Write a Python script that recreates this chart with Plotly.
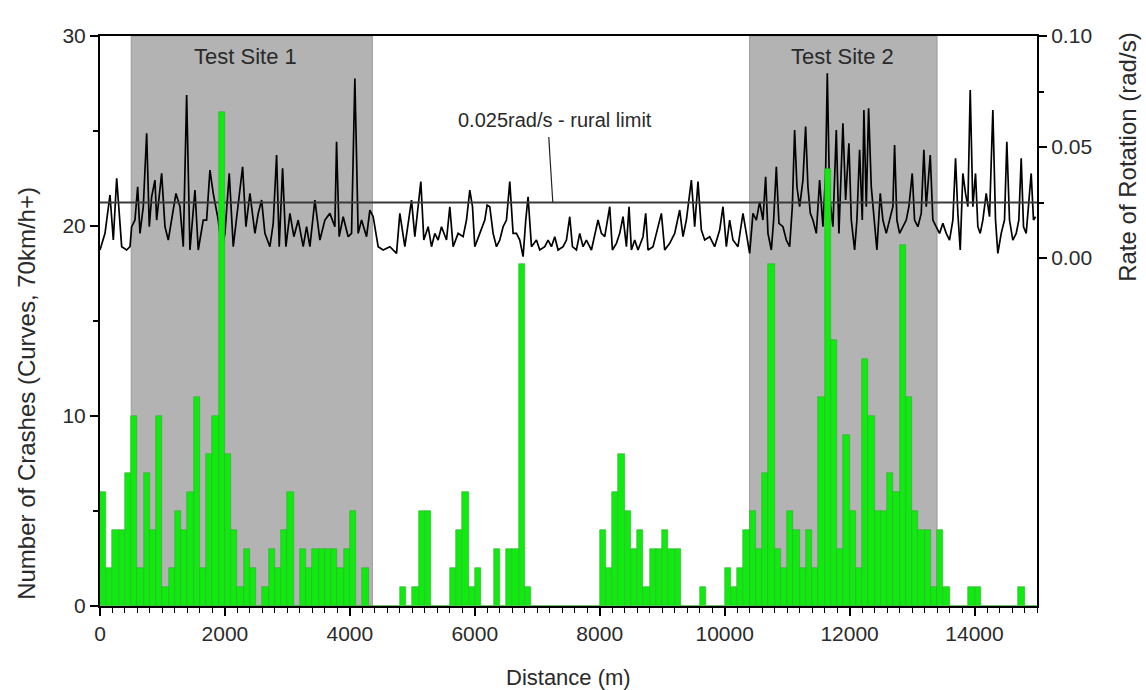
import plotly.graph_objects as go

# ---------------- data ----------------
bin_width = 100
crashes = [
    6, 2, 4, 4, 7, 10, 2, 7, 4, 10,      # 0-1000
    1, 2, 5, 4, 6, 11, 2, 8, 10, 26,     # 1000-2000
    8, 4, 1, 3, 2, 0, 1, 3, 2, 4,        # 2000-3000
    6, 0, 3, 2, 3, 3, 3, 3, 2, 3,        # 3000-4000
    5, 0, 2, 0, 0, 0, 0, 0, 1, 0,        # 4000-5000
    1, 5, 5, 0, 0, 0, 2, 4, 6, 1,        # 5000-6000
    2, 0, 0, 3, 0, 3, 3, 18, 1, 0,       # 6000-7000
    0, 0, 0, 0, 0, 0, 0, 0, 0, 0,        # 7000-8000
    4, 2, 6, 8, 5, 3, 4, 1, 3, 3,        # 8000-9000
    4, 3, 3, 0, 0, 0, 1, 0, 0, 0,        # 9000-10000
    2, 1, 2, 4, 5, 3, 7, 18, 3, 2,       # 10000-11000
    5, 4, 2, 4, 2, 11, 23, 14, 3, 9,     # 11000-12000
    5, 2, 13, 10, 5, 5, 7, 6, 19, 11,    # 12000-13000
    5, 4, 4, 1, 4, 1, 0, 0, 0, 1,        # 13000-14000
    1, 0, 0, 0, 0, 0, 0, 1, 0, 0,        # 14000-15000
]
bin_centers = [bin_width * i + bin_width / 2 for i in range(len(crashes))]

rot_distance = [
    0, 80, 160, 213, 267, 347, 427, 480, 507, 560, 603, 640, 693, 747, 789, 827, 880, 907, 987,
    1040, 1093, 1147, 1216, 1280, 1333, 1387, 1440, 1520, 1573, 1653, 1707, 1760, 1813, 1893,
    1947, 2000, 2069, 2133, 2213, 2283, 2336, 2400, 2480, 2533, 2587, 2640, 2720, 2773, 2827,
    2869, 2923, 2976, 3040, 3104, 3173, 3253, 3307, 3360, 3440, 3520, 3600, 3680, 3760, 3787,
    3829, 3893, 3973, 4027, 4080, 4133, 4187, 4267, 4320, 4373, 4453, 4533, 4640, 4747, 4800,
    4880, 4987, 5040, 5136, 5184, 5253, 5307, 5360, 5413, 5467, 5547, 5600, 5653, 5733, 5813,
    5867, 5920, 5963, 6000, 6080, 6160, 6197, 6240, 6293, 6347, 6400, 6453, 6507, 6560, 6613,
    6667, 6720, 6773, 6816, 6853, 6907, 6987, 7040, 7120, 7173, 7227, 7280, 7333, 7413, 7467,
    7520, 7563, 7627, 7680, 7733, 7787, 7867, 7920, 7973, 8027, 8080, 8160, 8203, 8267, 8320,
    8373, 8427, 8469, 8507, 8560, 8613, 8693, 8736, 8773, 8853, 8907, 8987, 9040, 9120, 9200,
    9280, 9333, 9387, 9467, 9520, 9573, 9627, 9680, 9760, 9840, 9920, 9973, 10027, 10080,
    10133, 10213, 10293, 10347, 10400, 10453, 10507, 10560, 10613, 10656, 10693, 10747, 10784,
    10827, 10869, 10933, 10987, 11040, 11083, 11120, 11157, 11200, 11253, 11296, 11333, 11371,
    11413, 11467, 11520, 11573, 11616, 11643, 11680, 11733, 11787, 11829, 11867, 11893, 11936,
    11989, 12027, 12080, 12117, 12160, 12203, 12229, 12267, 12304, 12347, 12400, 12437, 12491,
    12533, 12587, 12640, 12693, 12720, 12757, 12800, 12853, 12907, 12949, 13003, 13040, 13093,
    13147, 13189, 13227, 13291, 13333, 13387, 13440, 13493, 13547, 13600, 13653, 13696, 13733,
    13771, 13813, 13856, 13893, 13931, 13973, 14016, 14053, 14091, 14133, 14187, 14240, 14293,
    14336, 14373, 14427, 14480, 14517, 14560, 14613, 14667, 14709, 14747, 14784, 14827, 14880,
    14907, 14944, 14976,
]
rot_rate = [
    0.0036, 0.0111, 0.0284, 0.0081, 0.0359, 0.0051, 0.0036, 0.0051, 0.0141, 0.0171, 0.0321,
    0.0111, 0.0231, 0.0562, 0.0141, 0.0276, 0.0351, 0.0171, 0.0381,
    0.0141, 0.0081, 0.0171, 0.0291, 0.0231, 0.0051, 0.0734, 0.0036, 0.0306, 0.0036, 0.0171,
    0.0171, 0.0396, 0.0291, 0.0171,
    0.0036, 0.0111, 0.0381, 0.0051, 0.0231, 0.0411, 0.0141, 0.0291, 0.0111, 0.0201, 0.0261,
    0.0111, 0.0051, 0.0156, 0.0464,
    0.0051, 0.0404, 0.0051, 0.0201, 0.0096, 0.0171, 0.0051, 0.0141, 0.0051, 0.0261, 0.0081,
    0.0171, 0.0201, 0.0141, 0.0524,
    0.0096, 0.0186, 0.0096, 0.0111, 0.0809, 0.0111, 0.0171, 0.0096, 0.0216, 0.0186, 0.0051,
    0.0036, 0.0051, 0.0021, 0.0201,
    0.0051, 0.0261, 0.0096, 0.0344, 0.0081, 0.0141, 0.0051, 0.0111, 0.0081, 0.0141, 0.0081,
    0.0231, 0.0051, 0.0111, 0.0096,
    0.0171, 0.0306, 0.0231, 0.0051, 0.0111, 0.0171, 0.0238, 0.0231, 0.0111, 0.0051, 0.0081,
    0.0141, 0.0171, 0.0344, 0.0111,
    0.0111, 0.0081, 0.0006, 0.0171, 0.0276, 0.0051, 0.0081, 0.0036, 0.0051, 0.0081, 0.0051,
    0.0096, 0.0036, 0.0051, 0.0081,
    0.0186, 0.0051, 0.0036, 0.0111, 0.0051, 0.0081, 0.0036, 0.0111, 0.0171, 0.0111, 0.0096,
    0.0231, 0.0036, 0.0066, 0.0111,
    0.0186, 0.0051, 0.0231, 0.0036, 0.0081, 0.0036, 0.0096, 0.0201, 0.0036, 0.0051, 0.0111,
    0.0201, 0.0036, 0.0066, 0.0111,
    0.0216, 0.0096, 0.0171, 0.0351, 0.0141, 0.0344, 0.0126, 0.0081, 0.0096, 0.0051, 0.0126,
    0.0231, 0.0051, 0.0171,
    0.0081, 0.0051, 0.0201, 0.0111, 0.0021, 0.0201, 0.0171, 0.0253, 0.0171, 0.0366, 0.0111,
    0.0036, 0.0171,
    0.0411, 0.0156, 0.0141, 0.0081, 0.0051, 0.0231, 0.0577, 0.0321, 0.0231, 0.0351, 0.0592,
    0.0321, 0.0201,
    0.0171, 0.0111, 0.0351, 0.0141, 0.0381, 0.0832, 0.0276, 0.0141, 0.0577, 0.0111, 0.0381,
    0.0607, 0.0261,
    0.0517, 0.0171, 0.0036, 0.0171, 0.0487, 0.0171, 0.0667, 0.0231, 0.0674, 0.0321, 0.0141,
    0.0036, 0.0291,
    0.0171, 0.0111, 0.0171, 0.0231, 0.0509, 0.0171, 0.0111, 0.0141, 0.0171, 0.0231, 0.0381,
    0.0171, 0.0141,
    0.0201, 0.0487, 0.0231, 0.0464, 0.0171, 0.0141, 0.0111, 0.0156, 0.0111, 0.0081, 0.0171,
    0.0449, 0.0201,
    0.0036, 0.0381, 0.0291, 0.0231, 0.0757, 0.0231, 0.0381, 0.0141, 0.0111, 0.0171, 0.0291,
    0.0186, 0.0667,
    0.0171, 0.0021, 0.0111, 0.0171, 0.0524, 0.0171, 0.0081, 0.0111, 0.0171, 0.0449, 0.0141,
    0.0111, 0.0321,
    0.0381, 0.0171, 0.0186,
]

rural_limit = 0.025
test_sites = [("Test Site 1", 500, 4360, 2336), ("Test Site 2", 10400, 13400, 11880)]
x_ticks = [0, 2000, 4000, 6000, 8000, 10000, 12000, 14000]
x_tick_text = ["0", "2000", "4000", "6000", "8000", "10000", "12000", "14000"]
left_ticks = [0, 10, 20, 30]
right_ticks = [0.00, 0.05, 0.10]

FONT = "Liberation Sans, Arial, sans-serif"
TXT = "#2a2a2a"

fig = go.Figure()

# rate of rotation (primary y, drawn on the right side)
fig.add_trace(go.Scatter(x=rot_distance, y=rot_rate, mode="lines",
                         line=dict(color="black", width=1.7), yaxis="y",
                         showlegend=False, hoverinfo="skip"))
fig.add_trace(go.Scatter(x=[0, 15000], y=[rural_limit, rural_limit], mode="lines",
                         line=dict(color="#3a3a3a", width=2), yaxis="y",
                         showlegend=False, hoverinfo="skip"))

# crashes (overlaying axis, drawn on the left side, bars on top)
fig.add_trace(go.Bar(x=bin_centers, y=crashes, width=bin_width, yaxis="y2",
                     marker=dict(color="#0fea0f", line=dict(color="#3aa83a", width=0.6)),
                     showlegend=False, hoverinfo="skip"))

shapes = []
annotations = []
for name, x0, x1, xl in test_sites:
    shapes.append(dict(type="rect", xref="x", yref="paper", x0=x0, x1=x1, y0=0, y1=1,
                       fillcolor="#b3b3b3", line=dict(color="#9a9a9a", width=1), layer="below"))
    annotations.append(dict(text=name, x=xl, y=0.9637, xref="x", yref="paper",
                            xanchor="center", yanchor="middle",
                            showarrow=False, font=dict(family=FONT, size=22, color=TXT)))

# rural limit label with leader line
shapes.append(dict(type="line", xref="x", yref="y", x0=7184, x1=7248, y0=0.0545, y1=0.0252,
                   line=dict(color="#222", width=1.2)))
annotations.append(dict(text="0.025rad/s - rural limit", x=7280, y=0.8526, xref="x", yref="paper",
                        xanchor="center", yanchor="middle",
                        showarrow=False, font=dict(family=FONT, size=20, color=TXT)))

# axis titles
annotations.append(dict(text="Number of Crashes (Curves, 70km/h+)", x=-0.0785, y=0.373,
                        xref="paper", yref="paper", textangle=-90, showarrow=False,
                        xanchor="center", yanchor="middle",
                        font=dict(family=FONT, size=24, color=TXT)))
annotations.append(dict(text="Rate of Rotation (rad/s)", x=1.0971, y=0.788,
                        xref="paper", yref="paper", textangle=-90, showarrow=False,
                        xanchor="center", yanchor="middle",
                        font=dict(family=FONT, size=24, color=TXT)))
annotations.append(dict(text="Distance (m)", x=0.4995, y=-0.126,
                        xref="paper", yref="paper", showarrow=False,
                        xanchor="center", yanchor="middle",
                        font=dict(family=FONT, size=22, color=TXT)))

right_range = [-(606 - 258) / 2220, 0.10]

fig.update_layout(
    width=1146, height=690,
    margin=dict(l=100, r=109, t=36, b=84),
    paper_bgcolor="white", plot_bgcolor="white",
    font=dict(family=FONT, size=21, color=TXT),
    bargap=0,
    shapes=shapes, annotations=annotations,
    xaxis=dict(range=[0, 15000], tickvals=x_ticks, ticktext=x_tick_text,
               ticks="outside", ticklen=8, tickwidth=1.5,
               tickcolor="black", showline=True, linecolor="black", linewidth=2, mirror=True,
               showgrid=False, zeroline=False,
               minor=dict(dtick=200, tick0=0, ticks="outside", ticklen=5, tickcolor="black",
                          tickwidth=1, showgrid=False)),
    yaxis=dict(range=right_range, side="right", tickvals=right_ticks, tickformat=".2f",
               ticks="outside", ticklen=8, tickwidth=1.5, tickcolor="black",
               showline=True, linecolor="black", linewidth=2, showgrid=False, zeroline=False,
               minor=dict(tickvals=[0.025, 0.075], ticks="outside", ticklen=5,
                          tickcolor="black", showgrid=False)),
    yaxis2=dict(range=[0, 30], side="left", overlaying="y", tickvals=left_ticks,
                ticks="outside", ticklen=8, tickwidth=1.5, tickcolor="black",
                showline=True, linecolor="black", linewidth=2, showgrid=False, zeroline=False,
                minor=dict(dtick=5, ticks="outside", ticklen=5, tickcolor="black",
                           showgrid=False)),
)

fig.write_html("out.html")
